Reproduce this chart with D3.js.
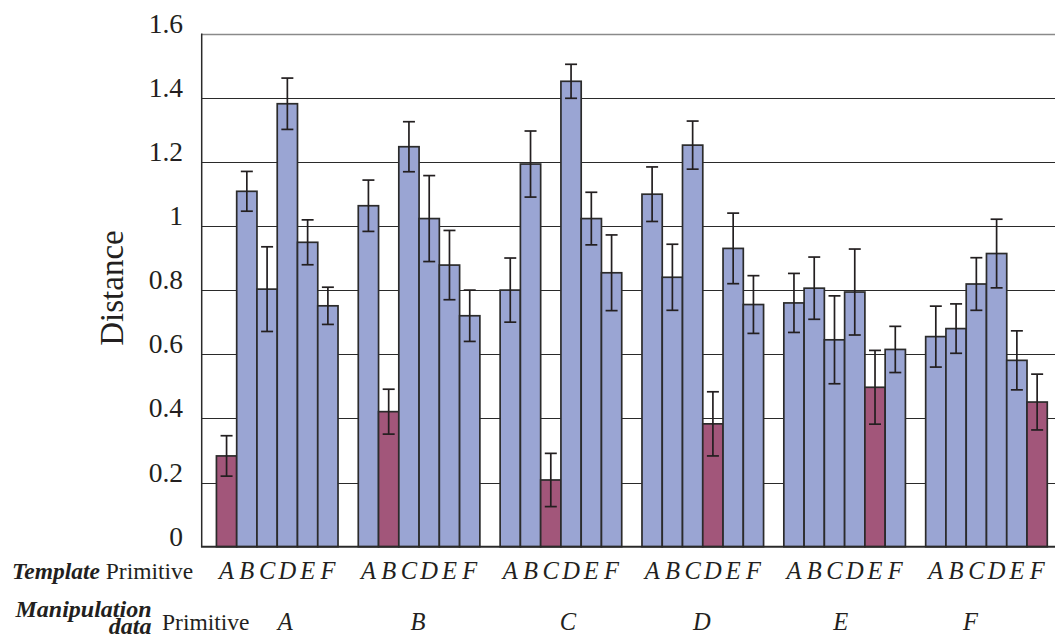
<!DOCTYPE html>
<html>
<head>
<meta charset="utf-8">
<script src="https://cdn.jsdelivr.net/npm/d3@7"></script>
<style>
  html, body { margin: 0; padding: 0; background: #fff; }
  svg { display: block; }
  svg text { font-family: 'Liberation Serif', 'Times New Roman', serif; }
</style>
</head>
<body>
<svg id="chart" width="1055" height="639"></svg>
<script>
// Manipulation-data primitives (outer groups) and template primitives (bars in each group)
const manipulation = ["A", "B", "C", "D", "E", "F"];
const templates = ["A", "B", "C", "D", "E", "F"];

// Mean distance per manipulation primitive, one value per template primitive
const meanA = [0.283, 1.108, 0.803, 1.381, 0.949, 0.751];
const meanB = [1.063, 0.421, 1.247, 1.023, 0.878, 0.720];
const meanC = [0.800, 1.193, 0.208, 1.451, 1.023, 0.854];
const meanD = [1.099, 0.840, 1.252, 0.383, 0.930, 0.755];
const meanE = [0.760, 0.806, 0.645, 0.794, 0.497, 0.615];
const meanF = [0.655, 0.680, 0.819, 0.914, 0.581, 0.451];

// Error-bar half lengths, same layout as the means
const errA = [0.063, 0.062, 0.132, 0.080, 0.070, 0.058];
const errB = [0.080, 0.070, 0.078, 0.134, 0.108, 0.080];
const errC = [0.100, 0.103, 0.083, 0.053, 0.082, 0.118];
const errD = [0.085, 0.103, 0.075, 0.100, 0.110, 0.090];
const errE = [0.092, 0.097, 0.137, 0.134, 0.115, 0.072];
const errF = [0.095, 0.077, 0.082, 0.107, 0.092, 0.087];

const yTicks = [0, 0.2, 0.4, 0.6, 0.8, 1, 1.2, 1.4, 1.6];

const means = [meanA, meanB, meanC, meanD, meanE, meanF];
const errs = [errA, errB, errC, errD, errE, errF];

const rows = [];
manipulation.forEach((m, gi) => {
  templates.forEach((t, ti) => {
    rows.push({ group: m, template: t, value: means[gi][ti], err: errs[gi][ti] });
  });
});

const svg = d3.select("#chart");
const ink = "#231f20";
const blue = "#9aa5d3";
const red = "#a2567a";

const axisX = 201.7;
const plotRight = 1055;
const x = d3.scaleBand().domain(manipulation).range([206.3, 1057.4]).paddingInner(0).paddingOuter(0);
const xi = d3.scaleBand().domain(templates).range([0, x.bandwidth()]).paddingInner(0).paddingOuter(0.5);
const y = d3.scaleLinear().domain([0, 1.6]).range([546.7, 33.5]);

// Hand-set nudges for the group letters under the axis (typeset labels, not centred exactly)
const groupLabelNudge = [8, -1, 7, -1, -4, -16];

// Horizontal gridlines
svg.append("g")
  .selectAll("line")
  .data(yTicks.filter(d => d > 0))
  .join("line")
  .attr("x1", axisX).attr("x2", plotRight)
  .attr("y1", d => Math.round(y(d)) + 0.5).attr("y2", d => Math.round(y(d)) + 0.5)
  .attr("stroke", d => d === 1.6 ? "#8a8a8a" : "#2a2a2a")
  .attr("stroke-width", d => d === 1.6 ? 1.5 : 1.1);

// Tick labels, sitting on their gridlines
svg.append("g")
  .selectAll("text")
  .data(yTicks)
  .join("text")
  .attr("x", 183)
  .attr("y", d => y(d) - 1)
  .attr("text-anchor", "end")
  .attr("font-size", 27.5)
  .attr("fill", ink)
  .text(d => d3.format("")(d));

// Y axis title
svg.append("text")
  .attr("transform", "translate(123,288) rotate(-90)")
  .attr("text-anchor", "middle")
  .attr("font-size", 33)
  .attr("fill", ink)
  .text("Distance");

// Bars
const groups = svg.append("g")
  .selectAll("g")
  .data(manipulation)
  .join("g")
  .attr("transform", d => `translate(${x(d)},0)`);

groups.selectAll("rect")
  .data(m => rows.filter(r => r.group === m))
  .join("rect")
  .attr("x", d => xi(d.template))
  .attr("y", d => y(d.value))
  .attr("width", xi.bandwidth())
  .attr("height", d => y(0) - y(d.value))
  .attr("fill", d => d.template === d.group ? red : blue)
  .attr("stroke", "#2b2b2b")
  .attr("stroke-width", 1.7);

// Error bars
const capHalf = 6;
const eb = groups.selectAll("g.err")
  .data(m => rows.filter(r => r.group === m))
  .join("g")
  .attr("class", "err")
  .attr("stroke", "#231f20")
  .attr("stroke-width", 1.7);
eb.append("line")
  .attr("x1", d => xi(d.template) + xi.bandwidth() / 2)
  .attr("x2", d => xi(d.template) + xi.bandwidth() / 2)
  .attr("y1", d => y(d.value + d.err))
  .attr("y2", d => y(d.value - d.err));
eb.append("line")
  .attr("x1", d => xi(d.template) + xi.bandwidth() / 2 - capHalf)
  .attr("x2", d => xi(d.template) + xi.bandwidth() / 2 + capHalf)
  .attr("y1", d => y(d.value + d.err))
  .attr("y2", d => y(d.value + d.err));
eb.append("line")
  .attr("x1", d => xi(d.template) + xi.bandwidth() / 2 - capHalf)
  .attr("x2", d => xi(d.template) + xi.bandwidth() / 2 + capHalf)
  .attr("y1", d => y(d.value - d.err))
  .attr("y2", d => y(d.value - d.err));

// Axis lines
svg.append("line")
  .attr("x1", axisX).attr("x2", axisX)
  .attr("y1", y(1.6)).attr("y2", y(0))
  .attr("stroke", "#2a2a2a").attr("stroke-width", 1.5);
svg.append("line")
  .attr("x1", axisX - 0.75).attr("x2", plotRight)
  .attr("y1", y(0)).attr("y2", y(0))
  .attr("stroke", "#2a2a2a").attr("stroke-width", 2);

// Category labels below the axis
const lab = svg.append("g").attr("fill", ink);

const tplTitle = lab.append("text").attr("x", 12).attr("y", 579).attr("font-size", 23.5);
tplTitle.append("tspan").attr("font-weight", "bold").attr("font-style", "italic").text("Template");
tplTitle.append("tspan").text(" Primitive");

lab.selectAll("text.tpl")
  .data(rows)
  .join("text")
  .attr("class", "tpl")
  .attr("x", d => x(d.group) + xi(d.template) + xi.bandwidth() / 2)
  .attr("y", 579)
  .attr("text-anchor", "middle")
  .attr("font-size", 24.5)
  .attr("font-style", "italic")
  .text(d => d.template);

lab.append("text")
  .attr("x", 151.5).attr("y", 617)
  .attr("text-anchor", "end")
  .attr("font-size", 24)
  .attr("font-weight", "bold").attr("font-style", "italic")
  .text("Manipulation");
lab.append("text")
  .attr("x", 151.5).attr("y", 634)
  .attr("text-anchor", "end")
  .attr("font-size", 24)
  .attr("font-weight", "bold").attr("font-style", "italic")
  .text("data");
lab.append("text")
  .attr("x", 162).attr("y", 630)
  .attr("font-size", 23.5)
  .text("Primitive");

lab.selectAll("text.grp")
  .data(manipulation)
  .join("text")
  .attr("class", "grp")
  .attr("x", (d, i) => x(d) + x.bandwidth() / 2 + groupLabelNudge[i])
  .attr("y", 630)
  .attr("text-anchor", "middle")
  .attr("font-size", 24.5)
  .attr("font-style", "italic")
  .text(d => d);
</script>
</body>
</html>
